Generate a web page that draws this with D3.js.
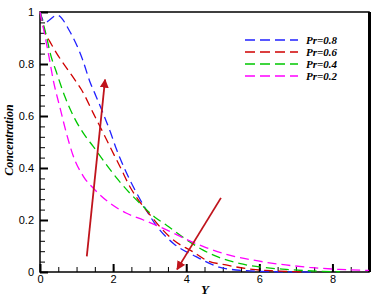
<!DOCTYPE html>
<html>
<head>
<meta charset="utf-8">
<script src="https://cdn.jsdelivr.net/npm/d3@7"></script>
<style>
  body { margin: 0; background: #fff; }
  svg { display: block; }
  .tick text { font-family: "Liberation Sans", Arial, sans-serif; font-size: 11px; fill: #000; }
  .lab { font-family: "Liberation Serif", "Times New Roman", serif; font-weight: bold; font-style: italic; }
</style>
</head>
<body>
<svg id="chart" width="386" height="300"></svg>
<script>
// Pr = 0.8
const yBlue = [0, 0.13, 0.47, 0.82, 1.17, 1.37, 1.5, 1.69, 1.92, 2.1, 2.33, 2.6, 2.9, 3.2, 3.65, 4.27, 4.9, 5.64, 6.5, 7.5];
const cBlue = [1, 0.96, 0.988, 0.924, 0.815, 0.73, 0.687, 0.623, 0.54, 0.469, 0.392, 0.315, 0.24, 0.175, 0.11, 0.059, 0.019, 0.005, 0.001, 0];
// Pr = 0.6
const yRed = [0, 0.14, 0.27, 0.46, 0.7, 0.95, 1.14, 1.46, 1.69, 1.96, 2.19, 2.46, 2.83, 3.05, 3.28, 3.65, 4.18, 4.54, 5.09, 5.82, 6.46, 7.2];
const cRed = [1, 0.92, 0.886, 0.84, 0.79, 0.74, 0.70, 0.61, 0.546, 0.469, 0.405, 0.328, 0.251, 0.213, 0.174, 0.123, 0.078, 0.046, 0.027, 0.01, 0.004, 0];
// Pr = 0.4
const yGreen = [0, 0.18, 0.27, 0.46, 0.68, 0.95, 1.19, 1.46, 1.82, 2.14, 2.46, 2.83, 3.15, 3.46, 4.0, 4.45, 4.9, 5.45, 6.09, 6.73, 7.63, 8.2];
const cGreen = [1, 0.905, 0.847, 0.764, 0.675, 0.59, 0.533, 0.482, 0.412, 0.354, 0.303, 0.251, 0.21, 0.18, 0.125, 0.085, 0.056, 0.033, 0.018, 0.01, 0.003, 0.001];
// Pr = 0.2
const yMag = [0, 0.14, 0.23, 0.36, 0.55, 0.73, 0.9, 1.19, 1.46, 1.92, 2.37, 2.83, 3.46, 4.01, 4.54, 5.18, 5.82, 6.55, 7.37, 8.19, 9];
const cMag = [1, 0.905, 0.84, 0.74, 0.63, 0.53, 0.45, 0.367, 0.322, 0.264, 0.226, 0.2, 0.162, 0.125, 0.094, 0.065, 0.046, 0.03, 0.018, 0.01, 0.006];

const seriesNames = ["Pr=0.8", "Pr=0.6", "Pr=0.4", "Pr=0.2"];
const seriesColors = ["#2020ff", "#d00000", "#00c800", "#ff00ff"];
const seriesX = [yBlue, yRed, yGreen, yMag];
const seriesY = [cBlue, cRed, cGreen, cMag];

const xTicks = [0, 2, 4, 6, 8];
const yTicks = [0, 0.2, 0.4, 0.6, 0.8, 1];

// arrows: [from Y, from C, to Y, to C]
const arrows = [[1.28, 0.06, 1.78, 0.74], [4.95, 0.285, 3.75, 0.01]];

const svg = d3.select("#chart");
const mLeft = 40, mRight = 369, mTop = 12, mBottom = 272;

const x = d3.scaleLinear().domain([0, 9]).range([mLeft, mRight]);
const y = d3.scaleLinear().domain([0, 1]).range([mBottom, mTop]);

svg.append("defs").append("marker")
    .attr("id", "head")
    .attr("viewBox", "0 0 10 10")
    .attr("refX", 9).attr("refY", 5)
    .attr("markerWidth", 9).attr("markerHeight", 9)
    .attr("markerUnits", "userSpaceOnUse")
    .attr("orient", "auto")
  .append("path").attr("d", "M0,0L10,5L0,10z").attr("fill", "#c0141c");

// frame
svg.append("rect")
    .attr("x", mLeft).attr("y", mTop)
    .attr("width", mRight - mLeft).attr("height", mBottom - mTop)
    .attr("fill", "none").attr("stroke", "#000").attr("stroke-width", 1.5);
svg.append("line")
    .attr("x1", mRight + 0.5).attr("x2", mRight + 0.5)
    .attr("y1", mTop).attr("y2", mBottom)
    .attr("stroke", "#000").attr("stroke-width", 3);

// minor ticks
svg.append("g").attr("transform", `translate(0,${mBottom})`)
    .call(d3.axisBottom(x).tickValues(d3.range(0, 9.01, 0.5)).tickSize(-5).tickFormat(""))
    .call(g => g.select(".domain").remove());
svg.append("g").attr("transform", `translate(${mLeft},0)`)
    .call(d3.axisLeft(y).tickValues(d3.range(0, 1.001, 0.04)).tickSize(-5).tickFormat(""))
    .call(g => g.select(".domain").remove());

// major ticks
svg.append("g").attr("transform", `translate(0,${mBottom})`)
    .call(d3.axisBottom(x).tickValues(xTicks).tickSize(-8).tickPadding(3).tickFormat(d3.format("d")))
    .call(g => g.select(".domain").remove())
    .call(g => g.selectAll("line").attr("stroke-width", 2));
svg.append("g").attr("transform", `translate(${mLeft},0)`)
    .call(d3.axisLeft(y).tickValues(yTicks).tickSize(-8).tickPadding(6).tickFormat(d => d === 0 || d === 1 ? d : d3.format(".1f")(d)))
    .call(g => g.select(".domain").remove())
    .call(g => g.selectAll("line").attr("stroke-width", 2));

// curves
const line = d3.line().curve(d3.curveMonotoneX).x(d => x(d[0])).y(d => y(d[1]));
svg.append("g").selectAll("path")
  .data(seriesX.map((xs, i) => xs.map((v, j) => [v, seriesY[i][j]])))
  .join("path")
    .attr("d", line)
    .attr("fill", "none")
    .attr("stroke", (d, i) => seriesColors[i])
    .attr("stroke-width", 1.3)
    .attr("stroke-dasharray", "9,5");

// arrows
svg.append("g").selectAll("line")
  .data(arrows)
  .join("line")
    .attr("x1", d => x(d[0])).attr("y1", d => y(d[1]))
    .attr("x2", d => x(d[2])).attr("y2", d => y(d[3]))
    .attr("stroke", "#c0141c").attr("stroke-width", 1.8)
    .attr("marker-end", "url(#head)");

// legend
const lg = svg.append("g");
seriesNames.forEach((name, i) => {
  const ly = 40 + i * 12;
  lg.append("line")
    .attr("x1", 245).attr("x2", 298).attr("y1", ly).attr("y2", ly)
    .attr("stroke", seriesColors[i]).attr("stroke-width", 1.3)
    .attr("stroke-dasharray", "10,5");
  lg.append("text").attr("class", "lab")
    .attr("x", 306).attr("y", ly + 4)
    .attr("font-size", 11)
    .text(name);
});

// axis titles
svg.append("text").attr("class", "lab")
    .attr("x", 205).attr("y", 294)
    .attr("text-anchor", "middle").attr("font-size", 13)
    .text("Y");
svg.append("text").attr("class", "lab")
    .attr("transform", "translate(13,140) rotate(-90)")
    .attr("text-anchor", "middle").attr("font-size", 12)
    .text("Concentration");
</script>
</body>
</html>
